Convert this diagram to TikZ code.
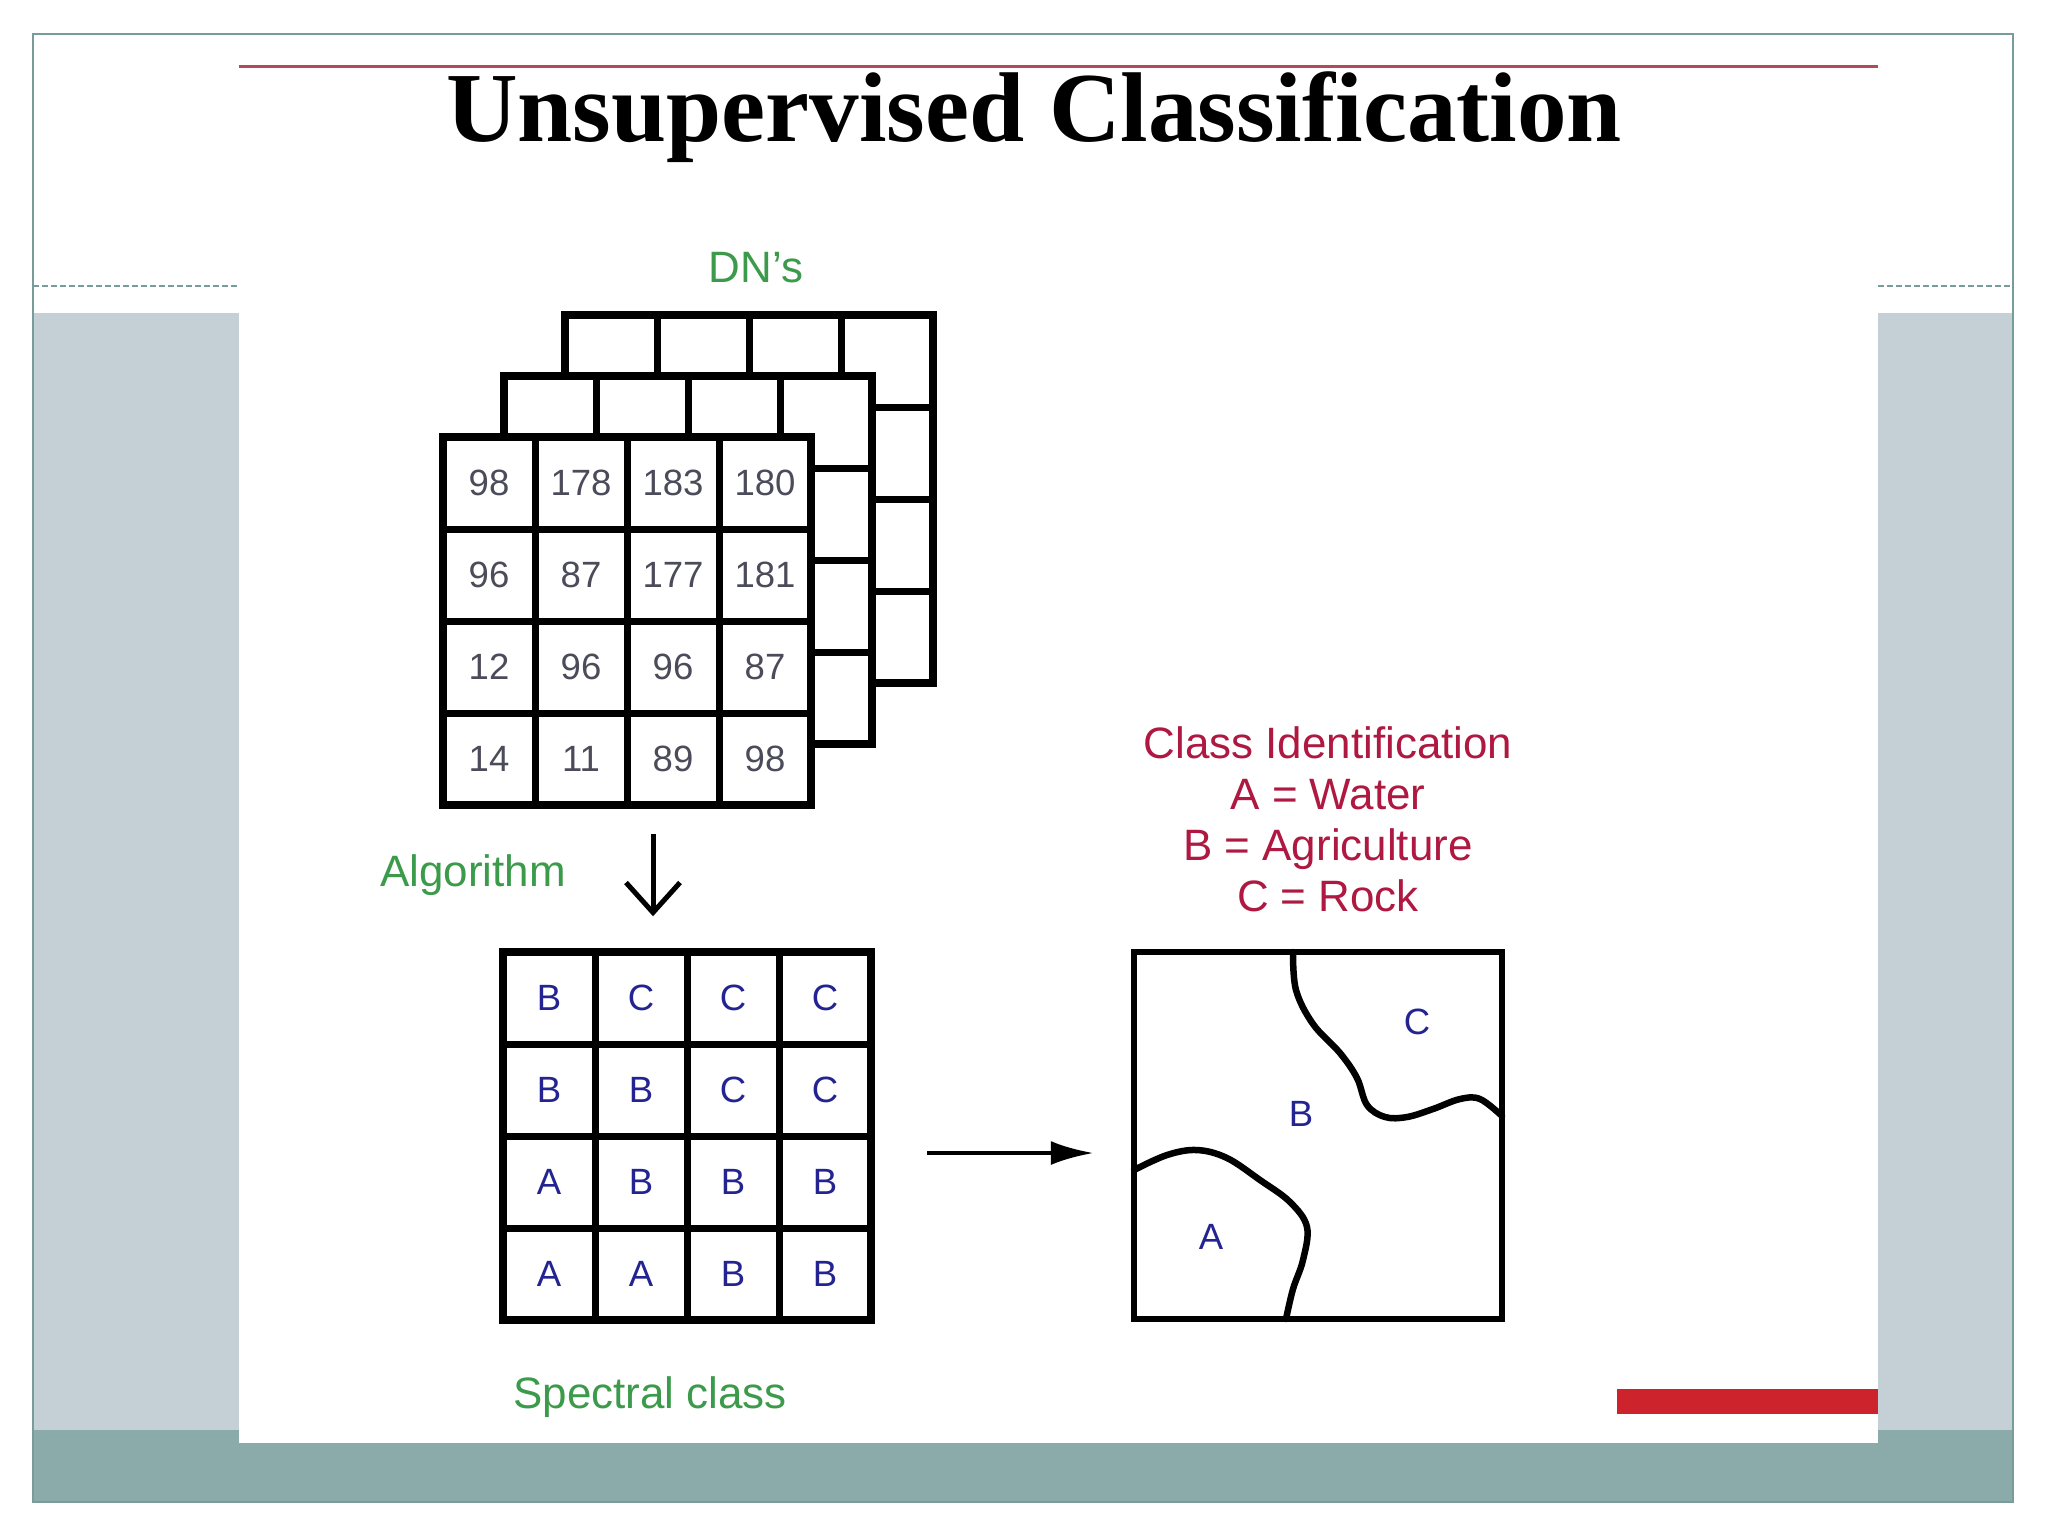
\documentclass[tikz,border=0pt]{standalone}
\usepackage{fontspec}
\setmainfont{Liberation Serif}
\setsansfont{Liberation Sans}
\usepackage{tikz}
\usetikzlibrary{arrows.meta}
\definecolor{slideline}{RGB}{120,155,155}
\definecolor{slidegray}{RGB}{197,208,214}
\definecolor{slideteal}{RGB}{138,171,170}
\definecolor{titlered}{RGB}{175,75,90}
\definecolor{barred}{RGB}{205,35,45}
\definecolor{grn}{RGB}{60,155,75}
\definecolor{crim}{RGB}{175,25,65}
\definecolor{numgray}{RGB}{75,75,90}
\definecolor{navy}{RGB}{35,35,145}

\begin{document}
\begin{tikzpicture}[x=0.1mm, y=-0.1mm,
  dnlayer/.style={draw, fill=white, line width=0.75mm, minimum size=36.8mm, inner sep=0pt},
  cellline/.style={line width=0.7mm},
  dnval/.style={font=\sffamily\fontsize{10.4}{12}\selectfont, text=numgray},
  spval/.style={font=\sffamily\fontsize{10.4}{12}\selectfont, text=navy},
  lbl/.style={font=\sffamily\fontsize{12.5}{15}\selectfont, text=grn, anchor=base},
  classtxt/.style={font=\sffamily\fontsize{12.5}{15}\selectfont, text=crim, anchor=base},
  regionline/.style={line width=0.65mm, line join=round, line cap=round}]
  \useasboundingbox (0,0) rectangle (2048,1536);
  % Slide background
  \fill[white] (0,0) rectangle (2048,1536);
  \fill[slidegray] (33,313) rectangle (2013,1430);
  \fill[slideteal] (33,1430) rectangle (2013,1502);
  \draw[slideline, line width=0.25mm, dash pattern=on 0.6mm off 0.3mm] (33,286) -- (2013,286);
  \draw[slideline, line width=0.25mm] (33,34) rectangle (2013,1502);
  % Picture area
  \fill[white] (239,62) rectangle (1878,1443);
  \draw[titlered, line width=0.3mm] (239,66) -- (1878,66);
  \fill[barred] (1617,1389) rectangle (1878,1414);
  % Title
  \node[font=\bfseries\fontsize{28.2}{30}\selectfont, anchor=base] (title) at (1034,141) {Unsupervised Classification};
  % Stack of DN layers
  \foreach \ox/\oy/\nm in {565/315/back, 504/376/mid, 443/437/front} {
    \node[dnlayer] (\nm) at (\ox+184,\oy+184) {};
    \foreach \i in {1,2,3} {
      \draw[cellline] (\ox+92*\i,\oy) -- (\ox+92*\i,\oy+368);
      \draw[cellline] (\ox,\oy+92*\i) -- (\ox+368,\oy+92*\i);
    }
  }
  \foreach \r/\vals in {0/{98,178,183,180}, 1/{96,87,177,181}, 2/{12,96,96,87}, 3/{14,11,89,98}}
    \foreach \v [count=\c from 0] in \vals
      \node[dnval] (dn-\r-\c) at (489+92*\c,483+92*\r) {\v};
  \node[lbl] (dns) at (756,282) {DN's};
  % Spectral class grid
  \node[dnlayer] (spec) at (687,1136) {};
  \foreach \i in {1,2,3} {
    \draw[cellline] (503+92*\i,952) -- (503+92*\i,1320);
    \draw[cellline] (503,952+92*\i) -- (871,952+92*\i);
  }
  \foreach \r/\vals in {0/{B,C,C,C}, 1/{B,B,C,C}, 2/{A,B,B,B}, 3/{A,A,B,B}}
    \foreach \v [count=\c from 0] in \vals
      \node[spval] (sc-\r-\c) at (549+92*\c,998+92*\r) {\v};
  \node[lbl] (algo) at (473,886) {Algorithm};
  \node[lbl] (spclass) at (650,1408) {Spectral class};
  % Class map
  \draw[regionline] plot[smooth, tension=0.6] coordinates {(1293,952) (1296,990) (1313,1024) (1340,1053) (1357,1078) (1367,1105) (1385,1117) (1407,1117) (1433,1109) (1460,1099) (1480,1099) (1502,1116)};
  \draw[regionline] plot[smooth, tension=0.6] coordinates {(1134,1170) (1167,1155) (1197,1150) (1227,1158) (1260,1180) (1290,1202) (1307,1227) (1303,1260) (1293,1289) (1286,1319)};
  \node[draw, line width=0.65mm, minimum width=36.8mm, minimum height=36.7mm, inner sep=0pt] (map) at (1318,1135.5) {};
  \node[spval] (map-c) at (1417,1022) {C};
  \node[spval] (map-b) at (1301,1114) {B};
  \node[spval] (map-a) at (1211,1237) {A};
  % Class identification
  \node[classtxt] (cls-title) at (1328,758) {Class Identification};
  \node[classtxt] (cls-a) at (1328,809) {A = Water};
  \node[classtxt] (cls-b) at (1328,860) {B = Agriculture};
  \node[classtxt] (cls-c) at (1328,911) {C = Rock};
  % Arrows
  \draw[line width=0.5mm, -{Straight Barb[length=3mm,width=5.4mm]}, shorten <=2.5mm, shorten >=3.2mm]
    ([xshift=2.6mm]front.south) -- ([xshift=2.6mm]front.south |- spec.north);
  \draw[line width=0.45mm, -{Latex[length=4.3mm,width=2.4mm]}, shorten <=5.2mm, shorten >=3.7mm]
    ([yshift=-1.7mm]spec.east) -- ([yshift=-1.7mm]spec.east -| map.west);
\end{tikzpicture}
\end{document}
